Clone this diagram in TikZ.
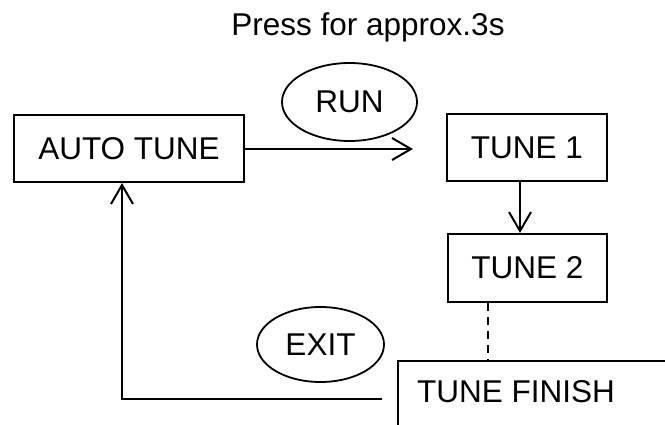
\documentclass[tikz,border=0pt]{standalone}
\usepackage{fontspec}
\setmainfont{Liberation Sans}
\usetikzlibrary{arrows.meta,shapes.geometric}
\begin{document}
\begin{tikzpicture}[x=1pt,y=-1pt,
  every node/.style={font=\fontsize{31.5}{36}\selectfont, inner sep=0pt},
  box/.style={draw, line width=2pt, rectangle},
  oval/.style={draw, line width=1.8pt, ellipse},
  conn/.style={line width=2pt, -{Straight Barb[length=19pt,width=22pt,line width=2pt]}},
  plain/.style={line width=2pt}]
\useasboundingbox (0,0) rectangle (665,425);
\node (title) at (368,27) {Press for approx.3s};
\node[box, minimum width=230, minimum height=67] (auto) at (129,148.5) {AUTO TUNE};
\node[oval, minimum width=135, minimum height=78] (run) at (349.5,102) {RUN};
\node[box, minimum width=160, minimum height=67] (t1) at (527,147.5) {TUNE 1};
\node[box, minimum width=159, minimum height=68] (t2) at (527.5,268) {TUNE 2};
\node[oval, minimum width=127, minimum height=75] (exit) at (320.5,344.5) {EXIT};
\node[minimum width=267, minimum height=64] (finish) at (531.5,393) {};
\node (finishtxt) at (516,392) {TUNE FINISH};
\draw[plain] (finish.south west) -- (finish.north west) -- (finish.north east);
\coordinate (runend) at (413,149);
\draw[conn] (auto.east |- runend) -- (runend);
\draw[conn] (t1.south -| 520,0) -- (t2.north -| 520,0);
\draw[plain, dash pattern=on 8pt off 6pt] (t2.south -| 488,0) -- (finish.north -| 488,0);
\coordinate (exitstart) at (382,399);
\coordinate (corner) at (122,399);
\draw[conn] (exitstart) -- (corner) -- (corner |- auto.south);
\end{tikzpicture}
\end{document}
